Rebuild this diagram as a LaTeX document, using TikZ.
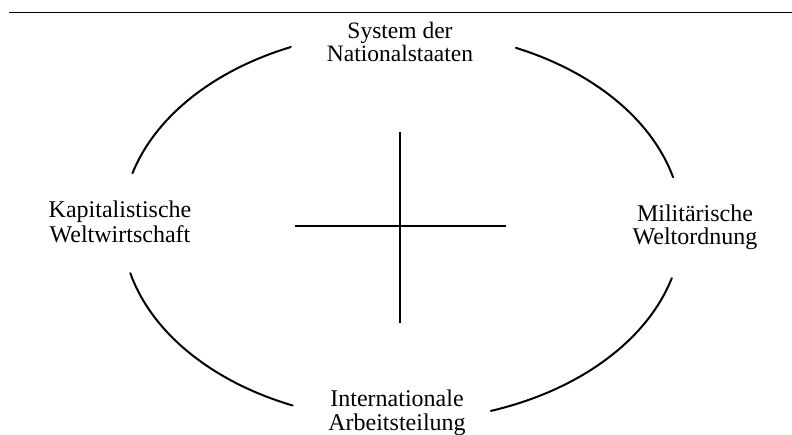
\documentclass[tikz,border=0pt]{standalone}
\usepackage{fontspec}
\setmainfont{Liberation Serif}
\begin{document}
\begin{tikzpicture}[x=1pt,y=1pt,
  lbl/.style={align=center,font=\fontsize{23.5}{23}\selectfont,inner sep=0pt,anchor=base},
  arcline/.style={line width=2pt,line cap=round},
  crossline/.style={line width=2.3pt}]
\useasboundingbox (0,0) rectangle (792,435);
\draw[line width=1.3pt] (9,422.3) coordinate (r1) -- (792,422.3) coordinate (r2);
\coordinate (c) at (402,209);
% labels: base anchor = baseline of the last line (y up)
\node[lbl] (top) at (400,373) {System der\\Nationalstaaten};
\node[lbl,font=\fontsize{24}{25}\selectfont] (left) at (120,192) {Kapitalistische\\Weltwirtschaft};
\node[lbl,font=\fontsize{24}{23}\selectfont] (right) at (695,190) {Militärische\\Weltordnung};
\node[lbl,font=\fontsize{24}{24}\selectfont] (bottom) at (397,4) {Internationale\\Arbeitsteilung};
% ellipse arcs
\draw[arcline] (c) ++(164.3:280 and 195) arc[start angle=164.3,end angle=113.4,x radius=280,y radius=195];
\draw[arcline] (c) ++(66:280 and 195) arc[start angle=66,end angle=14.5,x radius=280,y radius=195];
\draw[arcline] (c) ++(194:280 and 195) arc[start angle=194,end angle=247,x radius=280,y radius=195];
\draw[arcline] (c) ++(288.5:280 and 195) arc[start angle=288.5,end angle=344.5,x radius=280,y radius=195];
% cross
\coordinate (vt) at (400,303);
\coordinate (vb) at (400,112);
\coordinate (hl) at (295,209);
\coordinate (hr) at (506,209);
\draw[crossline] (vt) -- (vb);
\draw[crossline] (hl) -- (hr);
\end{tikzpicture}
\end{document}
